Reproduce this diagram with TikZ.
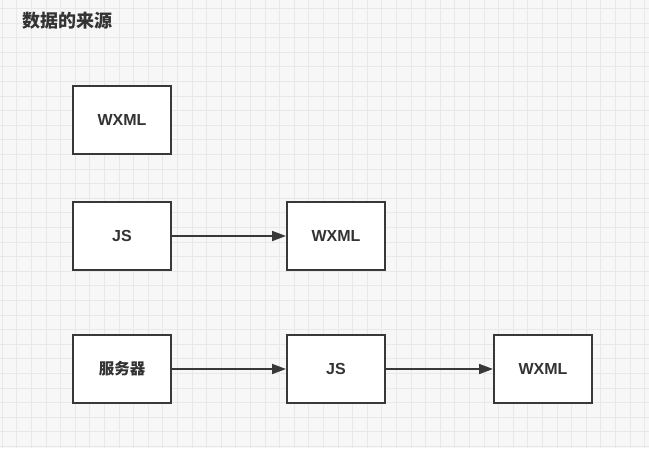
\documentclass[tikz,border=0pt]{standalone}
\usepackage{fontspec}
\setmainfont{Liberation Sans}
\newfontfamily\cjk{Noto Sans CJK SC}
\usetikzlibrary{arrows.meta}

\tikzset{
  gridline/.style={draw=black!9, line width=0.8pt},
  box/.style={draw=black!78, line width=2pt, fill=white, minimum width=98pt,
    minimum height=68pt, font=\fontsize{16}{18}\selectfont\bfseries, text=black!80},
  flow/.style={draw=black!78, line width=1.8pt, -{Triangle[length=14pt,width=10pt]}}
}

\begin{document}
\begin{tikzpicture}[x=1pt,y=-1pt]
			\useasboundingbox (0,0) rectangle (649,448);
			\fill[white!97!black] (0,0) rectangle (649,448);
			\foreach \x in {0,...,44}
				\draw[gridline] (2.1+14.6*\x,0) -- (2.1+14.6*\x,448);
			\foreach \y in {0,...,30}
				\draw[gridline] (0,8.3+14.6*\y) -- (649,8.3+14.6*\y);
			\node[anchor=west, inner sep=0pt, text=black!80, font=\fontsize{18}{20}\selectfont\cjk\bfseries] (title) at (22,21) {数据的来源};
			\node[box] (wxmlA) at (122,119.5) {WXML};
			\node[box] (jsA) at (122,236) {JS};
			\node[box] (wxmlB) at (336,236) {WXML};
			\node[box, font=\fontsize{15.5}{18}\selectfont\cjk\bfseries] (server) at (122,369) {服务器};
			\node[box] (jsB) at (336,369) {JS};
			\node[box] (wxmlC) at (543,369) {WXML};
			\draw[flow] (jsA) -- (wxmlB);
			\draw[flow] (server) -- (jsB);
			\draw[flow] (jsB) -- (wxmlC);
		\end{tikzpicture}
\end{document}
